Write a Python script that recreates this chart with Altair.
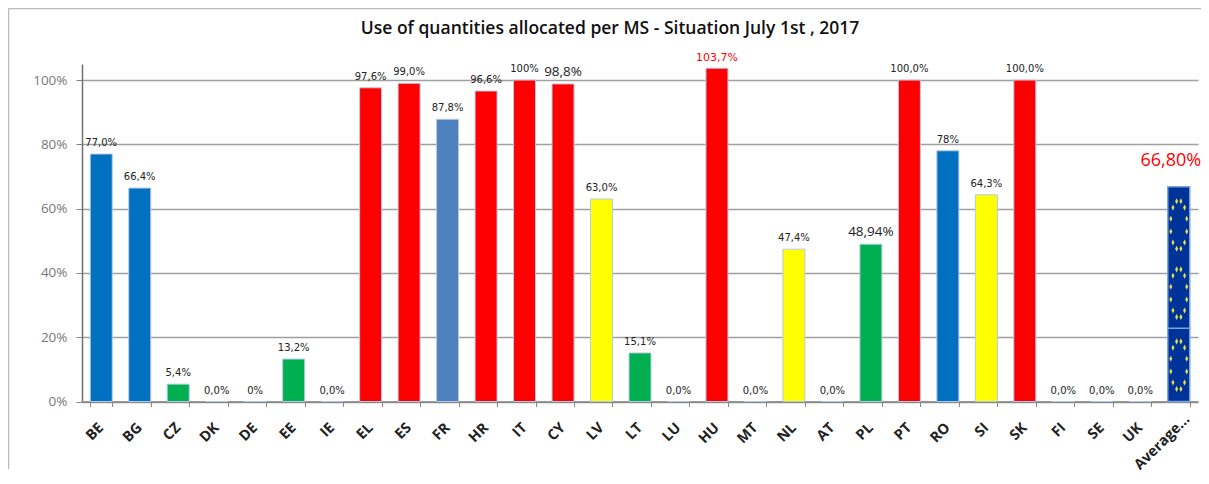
import math
import altair as alt
import pandas as pd

categories = ["BE","BG","CZ","DK","DE","EE","IE","EL","ES","FR","HR","IT","CY","LV","LT","LU","HU","MT","NL","AT","PL","PT","RO","SI","SK","FI","SE","UK","Average..."]
values = [77.0,66.4,5.4,0,0,13.2,0,97.6,99.0,87.8,96.6,100,98.8,63.0,15.1,0,103.7,0,47.4,0,48.94,100,78,64.3,100,0,0,0,66.8]
labels = ["77,0%","66,4%","5,4%","0,0%","0%","13,2%","0,0%","97,6%","99,0%","87,8%","96,6%","100%","98,8%","63,0%","15,1%","0,0%","103,7%","0,0%","47,4%","0,0%","48,94%","100,0%","78%","64,3%","100,0%","0,0%","0,0%","0,0%","66,80%"]
groups = ["blue","blue","green","green","green","green","green","red","red","steel","red","red","red","yellow","green","green","red","green","yellow","green","green","red","blue","yellow","red","green","green","green","eu"]
label_kinds = ["normal"]*29
label_kinds[12] = "large"
label_kinds[20] = "large"
label_kinds[16] = "alert"
label_kinds[28] = "average"

flag_band_base = [0]
flag_band_split = [22.8]
flag_band_top = [66.8]
ring_centres = [11.3, 33.7, 54.9]

df = pd.DataFrame({"cat": categories, "val": values, "label": labels, "group": groups, "kind": label_kinds})
avg = "Average..."

x = alt.X("cat:N", sort=categories, title=None, scale=alt.Scale(paddingInner=0.43, paddingOuter=0.215),
          axis=alt.Axis(labels=False, tickBand="extent", tickColor="#888888", tickSize=5,
                        domainColor="#808080", domainWidth=1.5, grid=False))
y = alt.Y("val:Q", title=None, scale=alt.Scale(domain=[0, 105], nice=False),
          axis=alt.Axis(values=[0,20,40,60,80,100], labelExpr="datum.value + '%'",
                        labelFont="Open Sans", labelFontSize=13.5, labelColor="#777777", labelPadding=9,
                        tickColor="#808080", tickSize=6, domainColor="#707070", domainWidth=1.5,
                        grid=True, gridColor="#a0a0a0", gridWidth=1.5))

bars = alt.Chart(df).transform_filter(alt.datum.cat != avg).mark_bar(size=22, stroke="#b5c9e6", strokeWidth=1).encode(
    x=x, y=y,
    color=alt.Color("group:N", legend=None, scale=alt.Scale(
        domain=["blue","green","red","yellow","steel"],
        range=["#0070C0","#00B050","#FF0000","#FFFF00","#4F81BD"])))

flag_df = pd.DataFrame({"cat": [avg, avg], "val": flag_band_base + flag_band_split, "top": flag_band_split + flag_band_top})
flag = alt.Chart(flag_df).mark_bar(size=22, color="#003399", stroke="#7ba3dc", strokeWidth=1.5).encode(
    x=alt.X("cat:N", sort=categories), y=alt.Y("val:Q"), y2="top:Q")

# ring of twelve elongated stars, as one symbol
parts = []
for i in range(12):
    a = math.pi * 2 * (i + 0.5) / 12
    cx, cy = 0.30 * math.cos(a), 0.90 * math.sin(a)
    parts.append(f"M{cx:.3f} {cy-0.11:.3f}L{cx+0.055:.3f} {cy:.3f}L{cx:.3f} {cy+0.11:.3f}L{cx-0.055:.3f} {cy:.3f}Z")
ring_path = "".join(parts)
ring_df = pd.DataFrame({"cat": [avg]*3, "val": ring_centres})
rings = alt.Chart(ring_df).mark_point(shape=ring_path, size=3000, filled=True, fill="#e0e050", opacity=1, strokeWidth=0).encode(
    x=alt.X("cat:N", sort=categories), y=alt.Y("val:Q"))

def label_layer(kind, font, size, color, dy, dx=0):
    return alt.Chart(df).transform_filter(alt.datum.kind == kind).mark_text(
        baseline="bottom", font=font, fontSize=size, color=color, dy=dy, dx=dx).encode(
        x=alt.X("cat:N", sort=categories), y=alt.Y("val:Q"), text="label:N")

text_normal = label_layer("normal", "DejaVu Sans", 10, "#222222", -6)
text_large = label_layer("large", "Open Sans", 13.5, "#222222", -5)
text_alert = label_layer("alert", "DejaVu Sans", 11, "#FF0000", -5)
text_average = label_layer("average", "Open Sans", 18, "#FF0000", -17, -8)

def cat_labels(test, dx, dy):
    return alt.Chart(df).transform_filter(test).mark_text(
        angle=315, align="right", baseline="middle", font="Open Sans", fontWeight="bold", fontSize=14.5,
        color="#222222", dx=dx, dy=dy).encode(
        x=alt.X("cat:N", sort=categories), y=alt.value(337.5), text="cat:N")

cat_short = cat_labels(alt.datum.cat != avg, -17, 17.4)
cat_avg = cat_labels(alt.datum.cat == avg, -5, 17.4)

frame_top = alt.Chart(pd.DataFrame({"a":[0]})).mark_rule(color="#bbbbbb", strokeWidth=1.5).encode(
    x=alt.value(-73.5), x2=alt.value(1119), y=alt.value(-55.5))
frame_left = alt.Chart(pd.DataFrame({"a":[0]})).mark_rule(color="#bbbbbb", strokeWidth=1.5).encode(
    x=alt.value(-73.5), y=alt.value(-55.5), y2=alt.value(405))

chart = alt.layer(bars, flag, rings, text_normal, text_large, text_alert, text_average, cat_short, cat_avg, frame_top, frame_left).properties(
    width=1116, height=337.5,
    title=alt.Title("Use of quantities allocated per MS - Situation July 1st , 2017", font="Open Sans", fontSize=17.5,
                    fontWeight=600, color="#111111", anchor="middle", dx=-30, offset=-30),
    autosize="none",
    padding={"left":74,"top":56,"right":3,"bottom":68},
).configure_view(stroke=None)

chart.save("out.html", embed_options={"renderer": "svg", "actions": False})
